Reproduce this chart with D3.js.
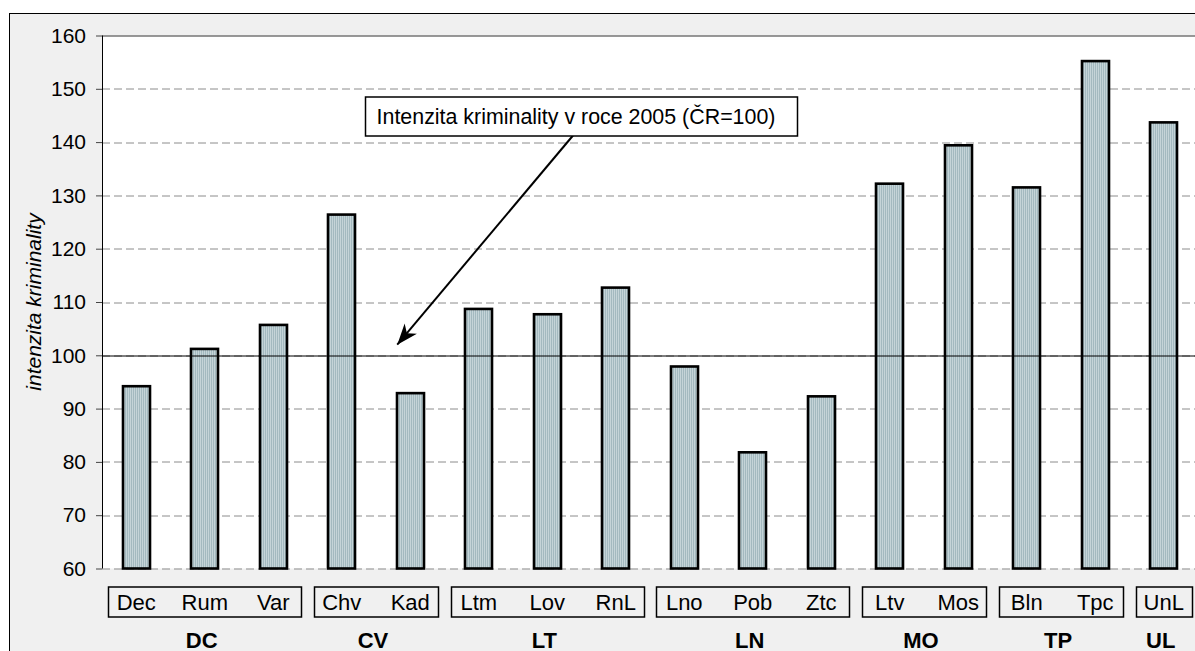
<!DOCTYPE html>
<html>
<head>
<meta charset="utf-8">
<script src="https://cdn.jsdelivr.net/npm/d3@7"></script>
<style>
  body { margin: 0; background: #fff; }
  text { font-family: "Liberation Sans", Arial, sans-serif; fill: #000; }
</style>
</head>
<body>
<div id="chart"></div>
<script>
// data
const categories = ['Dec', 'Rum', 'Var', 'Chv', 'Kad', 'Ltm', 'Lov', 'RnL', 'Lno', 'Pob', 'Ztc', 'Ltv', 'Mos', 'Bln', 'Tpc', 'UnL'];
const groups = ['DC', 'DC', 'DC', 'CV', 'CV', 'LT', 'LT', 'LT', 'LN', 'LN', 'LN', 'MO', 'MO', 'TP', 'TP', 'UL'];
const values = [94.2, 101.2, 105.7, 126.4, 92.9, 108.7, 107.7, 112.7, 97.9, 81.8, 92.3, 132.2, 139.4, 131.5, 155.2, 143.7];
const yTicks = [60, 70, 80, 90, 100, 110, 120, 130, 140, 150, 160];
const refValue = 100;
const yTitle = 'intenzita kriminality';
const noteText = 'Intenzita kriminality v roce 2005 (ČR=100)';

var W = 1195, H = 651;
var margin = {top: 35.5, right: -3, bottom: 82.5, left: 102};
var plotW = W - margin.left - margin.right,
    plotH = H - margin.top - margin.bottom;

var svg = d3.select('#chart').append('svg')
    .attr('width', W)
    .attr('height', H);

var defs = svg.append('defs');
var pat = defs.append('pattern')
    .attr('id', 'dots')
    .attr('width', 2).attr('height', 2)
    .attr('patternUnits', 'userSpaceOnUse');
pat.append('rect').attr('width', 2).attr('height', 2).attr('fill', '#a3b9bf');
pat.append('rect').attr('width', 1).attr('height', 1).attr('fill', '#e6eef0');

defs.append('marker')
    .attr('id', 'arrow')
    .attr('markerUnits', 'userSpaceOnUse')
    .attr('viewBox', '-22 -9 24 18')
    .attr('markerWidth', 24).attr('markerHeight', 18)
    .attr('refX', 0).attr('refY', 0)
    .attr('orient', 'auto')
  .append('path')
    .attr('d', 'M0,0 L-21,-8 L-15,0 L-21,8 Z')
    .attr('fill', '#000');

// outer chart frame
svg.append('rect')
    .attr('x', 9.5).attr('y', 13.5)
    .attr('width', W + 20).attr('height', H + 20)
    .attr('fill', '#f0f0f0')
    .attr('stroke', '#000')
    .attr('stroke-width', 1);

var g = svg.append('g')
    .attr('transform', 'translate(' + margin.left + ',' + margin.top + ')');

var x = d3.scaleBand()
    .domain(categories)
    .range([0, plotW]);

var y = d3.scaleLinear()
    .domain([60, 160])
    .range([plotH, 0]);

g.append('rect')
    .attr('width', plotW + 10).attr('height', plotH)
    .attr('fill', '#fff');

// gridlines
g.append('g').attr('class', 'grid')
  .selectAll('line')
    .data(yTicks.filter(d => d < 160))
  .enter().append('line')
    .attr('x1', 0).attr('x2', plotW + 10)
    .attr('y1', d => Math.round(y(d)) + 0.5)
    .attr('y2', d => Math.round(y(d)) + 0.5)
    .attr('stroke', '#8c8c8c')
    .attr('stroke-dasharray', '8,4');

g.append('line')
    .attr('x1', 0).attr('x2', plotW + 10)
    .attr('y1', Math.round(y(160)) + 0.5).attr('y2', Math.round(y(160)) + 0.5)
    .attr('stroke', '#333');

// bars
var barW = 27;
g.append('g').attr('class', 'bars')
  .selectAll('rect')
    .data(categories)
  .enter().append('rect')
    .attr('x', d => Math.round(x(d) + (x.bandwidth() - barW) / 2))
    .attr('y', (d, i) => y(values[i]))
    .attr('width', barW)
    .attr('height', (d, i) => y(60) - y(values[i]))
    .attr('fill', 'url(#dots)')
    .attr('stroke', '#000')
    .attr('stroke-width', 2.6);

// reference line CR = 100
g.append('line')
    .attr('x1', 0).attr('x2', plotW + 10)
    .attr('y1', Math.round(y(refValue)) + 0.5)
    .attr('y2', Math.round(y(refValue)) + 0.5)
    .attr('stroke', '#000');

// y axis
var yAxis = d3.axisLeft(y)
    .tickValues(yTicks)
    .tickSize(6)
    .tickPadding(10);

var yAxisG = g.append('g')
    .attr('class', 'y axis')
    .call(yAxis);
yAxisG.select('.domain').attr('stroke', '#000').attr('d', 'M0.5,' + y(60) + 'V' + y(160));
yAxisG.selectAll('.tick line').attr('stroke', '#444');
yAxisG.selectAll('text')
    .attr('font-size', 21)
    .attr('font-family', '"Liberation Sans", Arial, sans-serif')
    .attr('fill', '#000');

svg.append('text')
    .attr('transform', 'translate(41,' + (margin.top + plotH / 2) + ') rotate(-90)')
    .attr('text-anchor', 'middle')
    .attr('font-size', 21)
    .attr('font-style', 'italic')
    .text(yTitle);

// category labels
g.append('g').attr('class', 'x labels')
  .selectAll('text')
    .data(categories)
  .enter().append('text')
    .attr('x', d => x(d) + x.bandwidth() / 2)
    .attr('y', plotH + 41)
    .attr('text-anchor', 'middle')
    .attr('font-size', 22)
    .text(d => d);

// group boxes and labels
var groupNames = Array.from(new Set(groups));
var groupExtent = groupNames.map(name => {
  var members = categories.filter((c, i) => groups[i] === name);
  return {
    name: name,
    x0: x(members[0]),
    x1: x(members[members.length - 1]) + x.bandwidth()
  };
});

var groupG = g.append('g').attr('class', 'groups');
groupG.selectAll('rect')
    .data(groupExtent)
  .enter().append('rect')
    .attr('x', d => Math.round(d.x0 + 6) + 0.5)
    .attr('y', plotH + 18.5)
    .attr('width', d => Math.round(d.x1 - d.x0 - 13))
    .attr('height', 30)
    .attr('fill', 'none')
    .attr('stroke', '#000')
    .attr('stroke-width', 1.5);

groupG.selectAll('text')
    .data(groupExtent)
  .enter().append('text')
    .attr('x', d => (d.x0 + d.x1) / 2 - 3)
    .attr('y', plotH + 79)
    .attr('text-anchor', 'middle')
    .attr('font-size', 22)
    .attr('font-weight', 'bold')
    .text(d => d.name);

// annotation
var tipX = x('Kad') + x.bandwidth() / 2 - 13,
    tipY = y(102);
g.append('line')
    .attr('x1', 471).attr('y1', 100)
    .attr('x2', tipX).attr('y2', tipY)
    .attr('stroke', '#000')
    .attr('stroke-width', 2)
    .attr('marker-end', 'url(#arrow)');

g.append('rect')
    .attr('x', 263.5).attr('y', 61.5)
    .attr('width', 432).attr('height', 39)
    .attr('fill', '#fff')
    .attr('stroke', '#000')
    .attr('stroke-width', 1.5);

g.append('text')
    .attr('x', 474).attr('y', 88)
    .attr('text-anchor', 'middle')
    .attr('font-size', 21.4)
    .text(noteText);
</script>
</body>
</html>
